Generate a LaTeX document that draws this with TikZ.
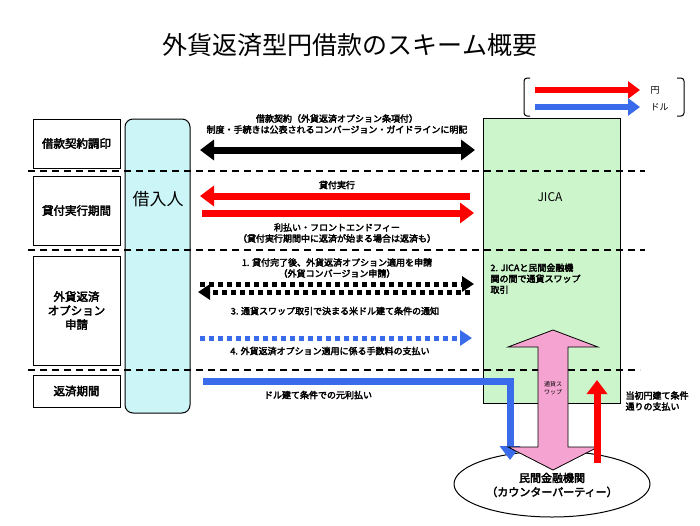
\documentclass[tikz,border=0pt]{standalone}
\usepackage{fontspec}
\setmainfont{Noto Sans CJK JP}[AutoFakeBold=3]
\usetikzlibrary{arrows.meta,shapes.geometric}
\definecolor{cy}{HTML}{CCF5F7}
\definecolor{gr}{HTML}{CCF5CC}
\definecolor{rd}{HTML}{FF0000}
\definecolor{bl}{HTML}{3A6BEA}
\definecolor{pk}{HTML}{F5A3D0}
\begin{document}
\begin{tikzpicture}[x=1pt,y=-1pt,
 lbl/.style={font=\fontsize{9}{11}\selectfont\bfseries,align=center},
 phase/.style={draw,line width=1pt,fill=white,font=\fontsize{11.5}{14}\selectfont\bfseries,align=center},
 sep/.style={dashed,line width=1.3pt,dash pattern=on 7pt off 5pt},
 big/.style={line width=7pt,-{Triangle[length=14pt,width=20pt]}},
 bigd/.style={line width=7pt,{Triangle[length=14pt,width=20pt]}-{Triangle[length=14pt,width=20pt]}},
 dots/.style={line width=5pt,dash pattern=on 5pt off 4pt,-{Triangle[length=12pt,width=15pt]}}]
\useasboundingbox[fill=white] (0,0) rectangle (700,525);
\node (title) at (350,45) {\fontsize{25}{30}\selectfont 外貨返済型円借款のスキーム概要};
% boxes
\node[phase,minimum width=87pt,minimum height=49pt] (p1) at (76.5,143.5) {借款契約調印};
\node[phase,minimum width=87pt,minimum height=69pt] (p2) at (76.5,210.5) {貸付実行期間};
\node[phase,minimum width=87pt,minimum height=109pt] (p3) at (76.5,310.5) {外貨返済\\オプション\\申請};
\node[phase,minimum width=87pt,minimum height=32pt] (p4) at (76.5,391) {返済期間};
\node[draw,line width=1pt,fill=cy,rounded corners=8pt,minimum width=65pt,minimum height=294pt] (bor) at (157.5,266) {};
\node[font=\fontsize{17}{20}\selectfont] (bort) at (158,199) {借入人};
\node[draw,line width=1pt,fill=gr,minimum width=137pt,minimum height=285pt] (jica) at (551.5,260.5) {};
\node[font=\fontsize{12}{14}\selectfont] (jt) at (550,197) {JICA};
% separators
\draw[sep] (28,171) -- (645,171);
\draw[sep] (28,250) -- (645,250);
\draw[sep] (28,370) -- (640,370);
% legend
\draw[line width=1pt,rounded corners=3pt] (530,78) -- (524,78) -- (524,116) -- (530,116);
\draw[line width=1pt,rounded corners=3pt] (677,78) -- (684,78) -- (684,116) -- (677,116);
\coordinate (ya) at (535,90); \coordinate (yb) at (640,90);
\coordinate (da) at (535,107); \coordinate (db) at (640,107);
\draw[rd,line width=6pt,-{Triangle[length=12pt,width=17pt]}] (ya) -- (yb);
\draw[bl,line width=6pt,-{Triangle[length=12pt,width=17pt]}] (da) -- (db);
\node[font=\fontsize{9}{10}\selectfont,anchor=west] (yen) at (647,90) {円};
\node[font=\fontsize{9}{10}\selectfont,anchor=west] (dol) at (647,107) {ドル};
% arrows
\coordinate (a1) at (200,150); \coordinate (b1) at (475,150);
\draw[bigd] (a1) -- (b1);
\node[lbl] (l1) at (337,124) {借款契約（外貨返済オプション条項付）\\制度・手続きは公表されるコンバージョン・ガイドラインに明記};
\coordinate (a2) at (470,196); \coordinate (b2) at (200,196);
\draw[big,rd] (a2) -- (b2);
\node[lbl] (l2) at (337,185) {貸付実行};
\coordinate (a3) at (202,213); \coordinate (b3) at (474,213);
\draw[big,rd] (a3) -- (b3);
\node[lbl] (l3) at (337,233) {利払い・フロントエンドフィー\\（貸付実行期間中に返済が始まる場合は返済も）};
\node[lbl] (l4) at (337,268) {1. 貸付完了後、外貨返済オプション適用を申請\\（外貨コンバージョン申請）};
\coordinate (a4) at (200,284); \coordinate (b4) at (474,284);
\draw[dots] (a4) -- (b4);
\coordinate (a5) at (470,292); \coordinate (b5) at (198,292);
\draw[dots] (a5) -- (b5);
\node[lbl] (l5) at (335,311) {3. 通貨スワップ取引で決まる米ドル建て条件の通知};
\coordinate (a6) at (200,338); \coordinate (b6) at (472,338);
\draw[dots,bl] (a6) -- (b6);
\node[lbl] (l6) at (330,351) {4. 外貨返済オプション適用に係る手数料の支払い};
\node[lbl,align=left,anchor=north west] (l7) at (487,260) {2. JICAと民間金融機\\関の間で通貨スワップ\\取引};
% ellipse
\node[draw,line width=1pt,ellipse,fill=white,minimum width=196pt,minimum height=66pt] (cp) at (552,484) {};
\node[font=\fontsize{11}{14}\selectfont\bfseries,align=center] (cpt) at (552,485) {民間金融機関\\（カウンターパーティー）};
% blue payment
\coordinate (c1) at (203,381); \coordinate (c2) at (510,381); \coordinate (c3) at (510,460);
\draw[bl,line width=7pt,-{Triangle[length=14pt,width=20pt]}] (c1) -- (c2) -- (c3);
\node[lbl] (l8) at (318,395) {ドル建て条件での元利払い};
% pink swap arrow
\draw[fill=pk,line width=0.8pt] (553,330) -- (598,347) -- (568,347) -- (568,447) -- (598,447) -- (553,470) -- (508,447) -- (538,447) -- (538,347) -- (508,347) -- cycle;
\node[font=\fontsize{6}{8}\selectfont,align=center] (sw) at (553,388) {通貨ス\\ワップ};
% red up
\coordinate (r1) at (597,463); \coordinate (r2) at (597,380);
\draw[big,rd] (r1) -- (r2);
\node[lbl,align=left,anchor=west] (l9) at (622,401) {当初円建て条件\\通りの支払い};
\end{tikzpicture}
\end{document}
